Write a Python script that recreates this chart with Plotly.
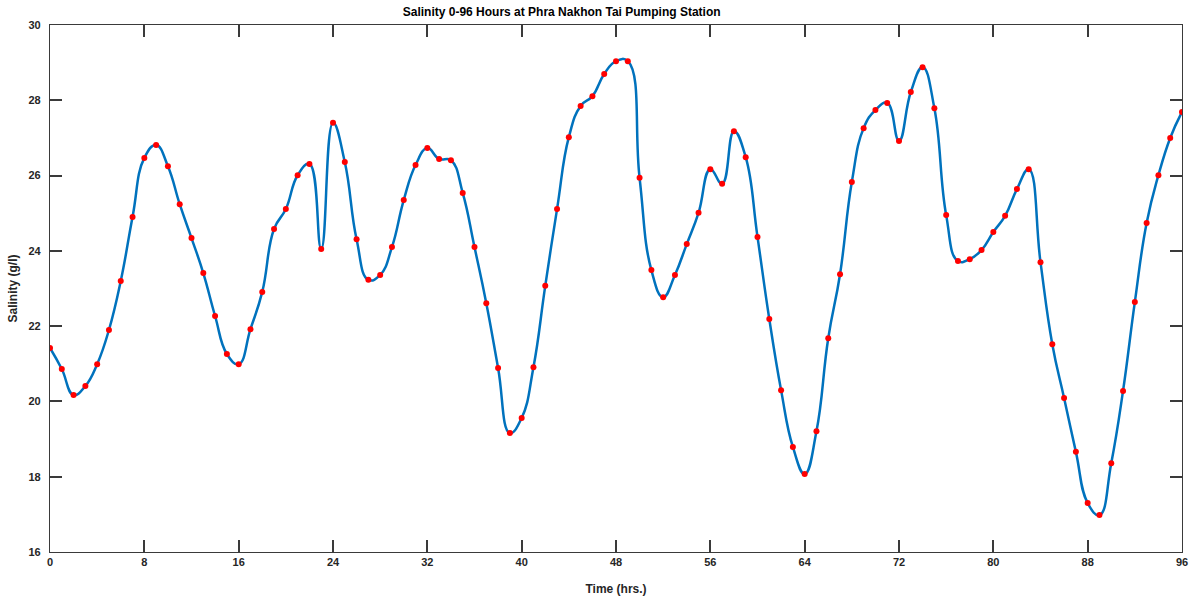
import plotly.graph_objects as go

hours = list(range(0, 97))
salinity = [
    21.42, 20.86, 20.17, 20.41, 20.99, 21.90, 23.20, 24.90, 26.47, 26.81,
    26.25, 25.24, 24.34, 23.41, 22.27, 21.26, 20.99, 21.92, 22.91, 24.58,
    25.11, 26.01, 26.31, 24.05, 27.40, 26.36, 24.31, 23.23, 23.36, 24.10,
    25.35, 26.28, 26.73, 26.44, 26.41, 25.54, 24.10, 22.61, 20.89, 19.16,
    19.56, 20.91, 23.07, 25.11, 27.02, 27.85, 28.11, 28.70, 29.04, 29.04,
    25.94, 23.49, 22.77, 23.36, 24.18, 25.01, 26.17, 25.78, 27.18, 26.49,
    24.37, 22.19, 20.30, 18.79, 18.07, 19.21, 21.68, 23.38, 25.83, 27.26,
    27.74, 27.93, 26.92, 28.22, 28.88, 27.79, 24.95, 23.73, 23.78, 24.02,
    24.50, 24.93, 25.64, 26.17, 23.70, 21.52, 20.09, 18.66, 17.30, 16.98,
    18.36, 20.28, 22.64, 24.74, 26.01, 27.00, 27.69,
]
x_ticks = list(range(0, 97, 8))
y_ticks = list(range(16, 31, 2))

title_text = "Salinity 0-96 Hours at Phra Nakhon Tai Pumping Station"
x_label = "Time (hrs.)"
y_label = "Salinity (g/l)"

fig = go.Figure()
fig.add_trace(go.Scatter(
    x=hours, y=salinity, mode="lines",
    line=dict(color="#0072BD", width=2.5, shape="spline", smoothing=1.3),
    showlegend=False, hoverinfo="skip",
))
fig.add_trace(go.Scatter(
    x=hours, y=salinity, mode="markers",
    marker=dict(color="#FF0000", size=6),
    showlegend=False,
))

axis_common = dict(
    showgrid=False, zeroline=False, automargin=False,
    showline=True, linecolor="#3a3a3a", linewidth=1.3,
    mirror="ticks", ticks="inside", ticklen=12, tickwidth=1.5, tickcolor="#3a3a3a",
    tickfont=dict(family="Liberation Sans, Arial, sans-serif", size=11, color="#262626"),
)

fig.update_layout(
    width=1190, height=602,
    margin=dict(l=50, r=8, t=25, b=50, autoexpand=False),
    plot_bgcolor="white", paper_bgcolor="white",
    font=dict(family="Liberation Sans, Arial, sans-serif"),
    title=dict(
        text="<b>" + title_text + "</b>",
        x=0.452, xref="paper", xanchor="center",
        y=1, yref="container", yanchor="top", pad=dict(t=8),
        font=dict(size=12, color="#000000"),
    ),
    xaxis=dict(
        range=[0, 96], tickvals=x_ticks, ticktext=["<b>%d</b>" % v for v in x_ticks],
        **axis_common,
        title=dict(text="<b>" + x_label + "</b>", font=dict(size=12, color="#262626"), standoff=17),
    ),
    yaxis=dict(
        range=[16, 30], tickvals=y_ticks, ticktext=["<b>%d</b>" % v for v in y_ticks],
        ticklabelstandoff=6, **axis_common,
        title=dict(text="<b>" + y_label + "</b>", font=dict(size=12, color="#262626"), standoff=8),
    ),
)

fig.write_html(
    "out.html",
    config={"displayModeBar": False},
    post_script="document.body.style.margin='0';document.body.style.overflow='hidden';",
)
